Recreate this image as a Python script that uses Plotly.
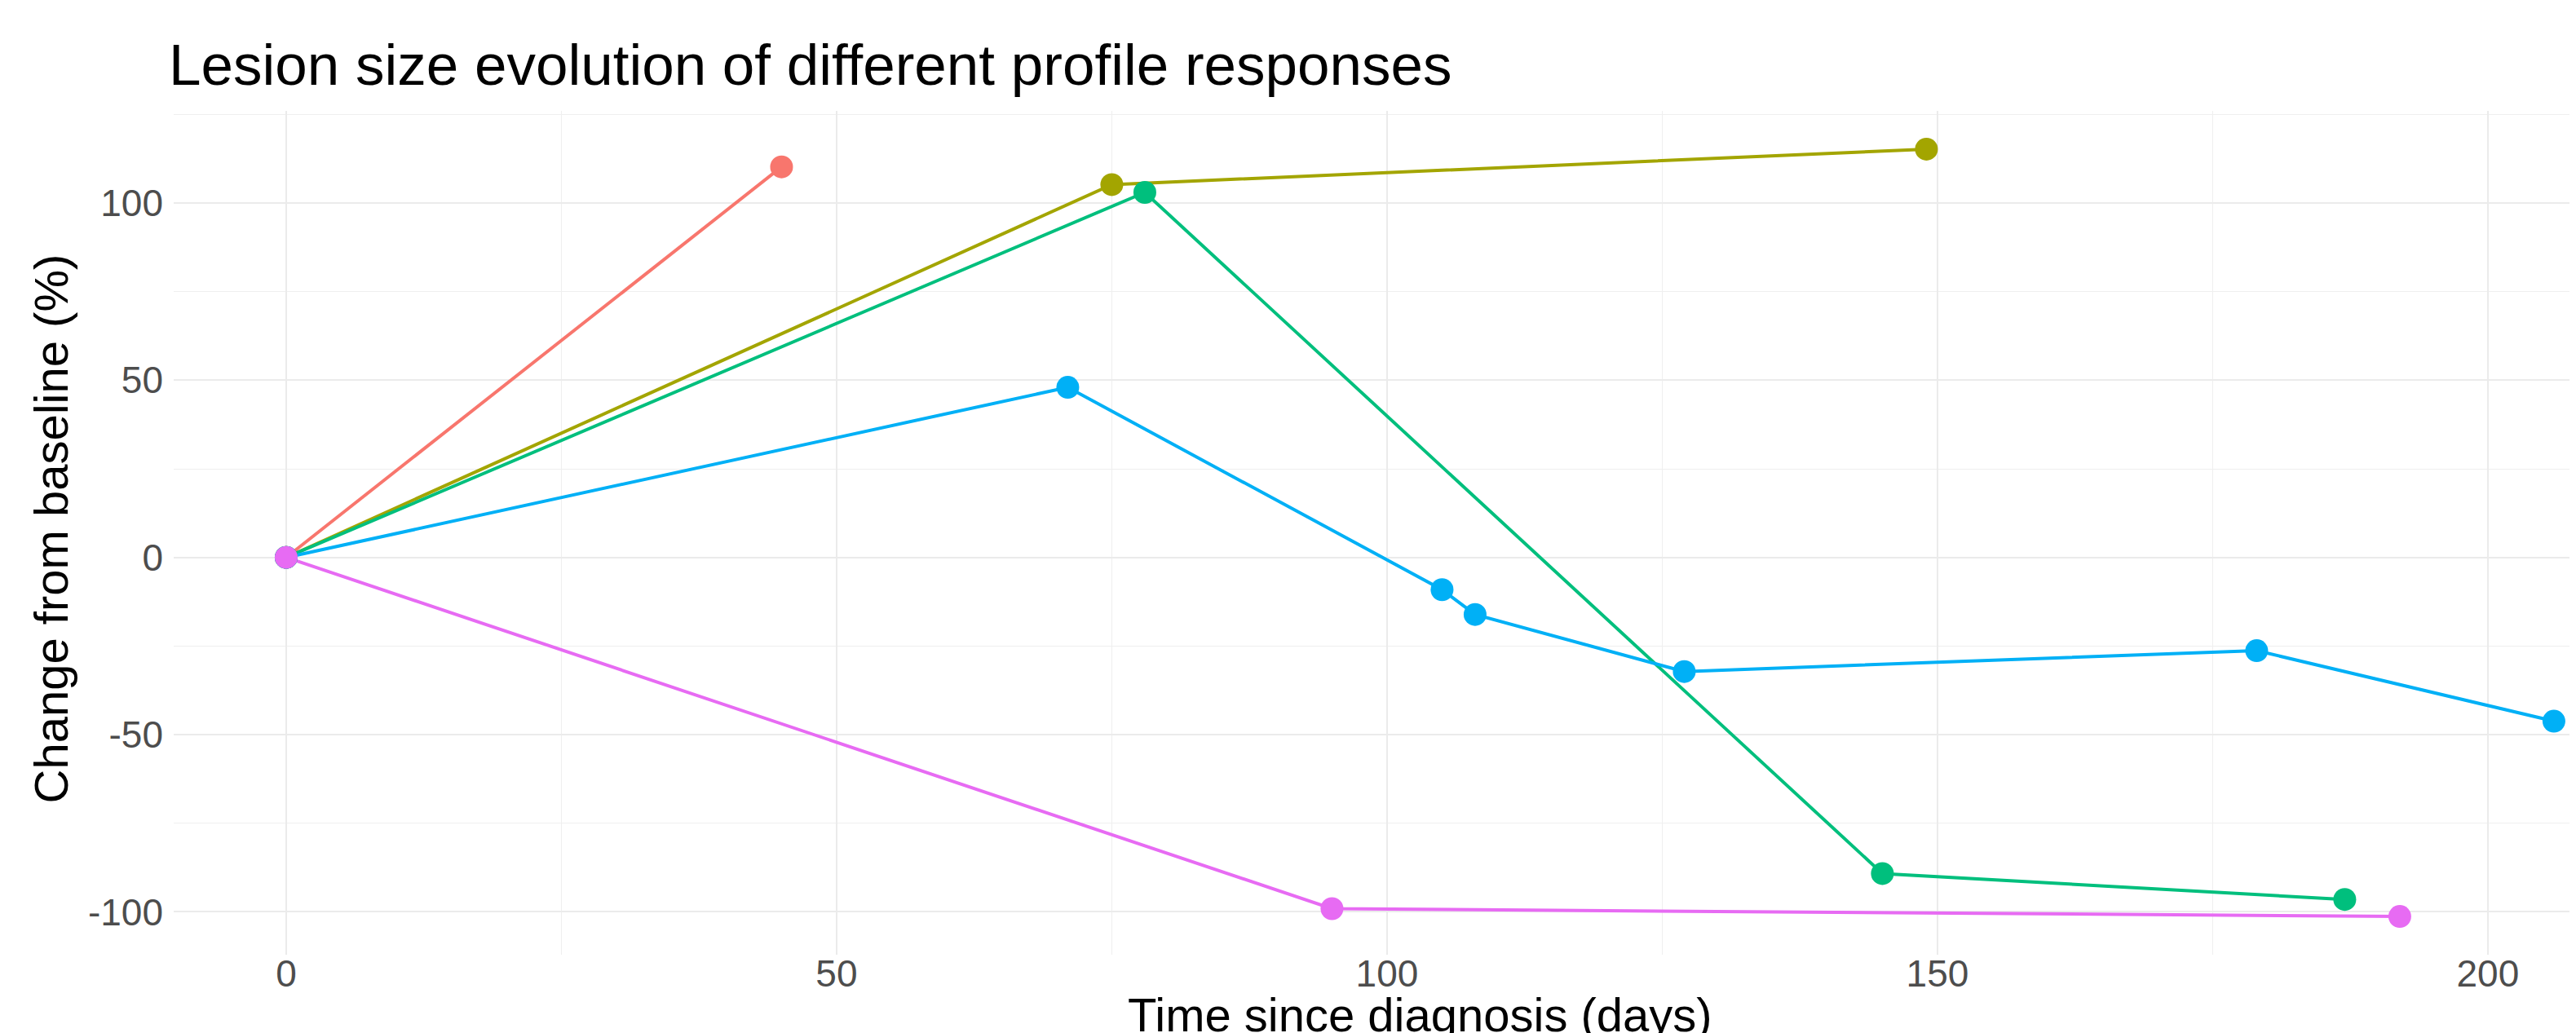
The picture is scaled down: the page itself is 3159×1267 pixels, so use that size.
import plotly.graph_objects as go

# ---- data ----
profiles = ["Profile 1", "Profile 2", "Profile 3", "Profile 4", "Profile 5"]
colors = ["#F8766D", "#A3A500", "#00BF7D", "#00B0F6", "#E76BF3"]

days_p1 = [0, 45]
change_p1 = [0, 110.2]

days_p2 = [0, 75, 149]
change_p2 = [0, 105.2, 115.2]

days_p3 = [0, 78, 145, 187]
change_p3 = [0, 103.0, -89.2, -96.5]

days_p4 = [0, 71, 105, 108, 127, 179, 206]
change_p4 = [0, 48.0, -9.1, -16.1, -32.2, -26.3, -46.2]

days_p5 = [0, 95, 192]
change_p5 = [0, -99.1, -101.3]

x_ticks = [0, 50, 100, 150, 200]
y_ticks = [-100, -50, 0, 50, 100]

title_text = "Lesion size evolution of different profile responses"
x_title = "Time since diagnosis (days)"
y_title = "Change from baseline (%)"

series_x = [days_p1, days_p2, days_p3, days_p4, days_p5]
series_y = [change_p1, change_p2, change_p3, change_p4, change_p5]

FONT = "Liberation Sans, Arial, Helvetica, sans-serif"

fig = go.Figure()

# lines first (like geom_line), then points on top (geom_point)
for name, xs, ys, c in zip(profiles, series_x, series_y, colors):
    fig.add_trace(go.Scatter(x=xs, y=ys, mode="lines", name=name,
                             line=dict(color=c, width=4), showlegend=False,
                             hoverinfo="skip"))
for name, xs, ys, c in zip(profiles, series_x, series_y, colors):
    fig.add_trace(go.Scatter(x=xs, y=ys, mode="markers", name=name,
                             marker=dict(color=c, size=28, line=dict(width=0)),
                             showlegend=False))

W, H = 3159, 1267
ML, MR, MT, MB = 205, 0, 128, 104

fig.update_layout(
    width=W, height=H,
    margin=dict(l=ML, r=MR, t=MT, b=MB, pad=0),
    paper_bgcolor="white", plot_bgcolor="white",
    font=dict(family=FONT, color="#000000"),
    showlegend=False,
    xaxis=dict(
        range=[-10.22, 208.6], tickvals=x_ticks, ticktext=[str(v) for v in x_ticks],
        showgrid=True, gridcolor="#EBEBEB", gridwidth=2.2,
        minor=dict(dtick=25, tick0=0, showgrid=True, gridcolor="#EFEFEF", gridwidth=1.2),
        zeroline=False, showline=False, ticks="",
        tickfont=dict(size=46, color="#4D4D4D", family=FONT),
        ticklabelstandoff=-8,
    ),
    yaxis=dict(
        range=[-112.1, 126], tickvals=y_ticks, ticktext=[str(v) for v in y_ticks],
        showgrid=True, gridcolor="#EBEBEB", gridwidth=2.2,
        minor=dict(dtick=25, tick0=0, showgrid=True, gridcolor="#EFEFEF", gridwidth=1.2),
        zeroline=False, showline=False, ticks="",
        tickfont=dict(size=46, color="#4D4D4D", family=FONT),
        ticklabelstandoff=12,
    ),
    annotations=[
        dict(text=title_text, xref="paper", yref="paper", x=0, y=1,
             xanchor="left", yanchor="middle", xshift=-8, yshift=57,
             showarrow=False, font=dict(size=71, color="#000000", family=FONT)),
        dict(text=y_title, xref="paper", yref="paper", x=0, y=0.5,
             xanchor="center", yanchor="middle", xshift=-151, yshift=5,
             textangle=-90, showarrow=False,
             font=dict(size=58, color="#000000", family=FONT)),
        dict(text=x_title, xref="paper", yref="paper", x=(1733 - ML) / (W - ML - MR), y=0,
             xanchor="center", yanchor="middle", yshift=-73,
             showarrow=False, font=dict(size=58, color="#000000", family=FONT)),
    ],
)

fig.write_html("out.html")
